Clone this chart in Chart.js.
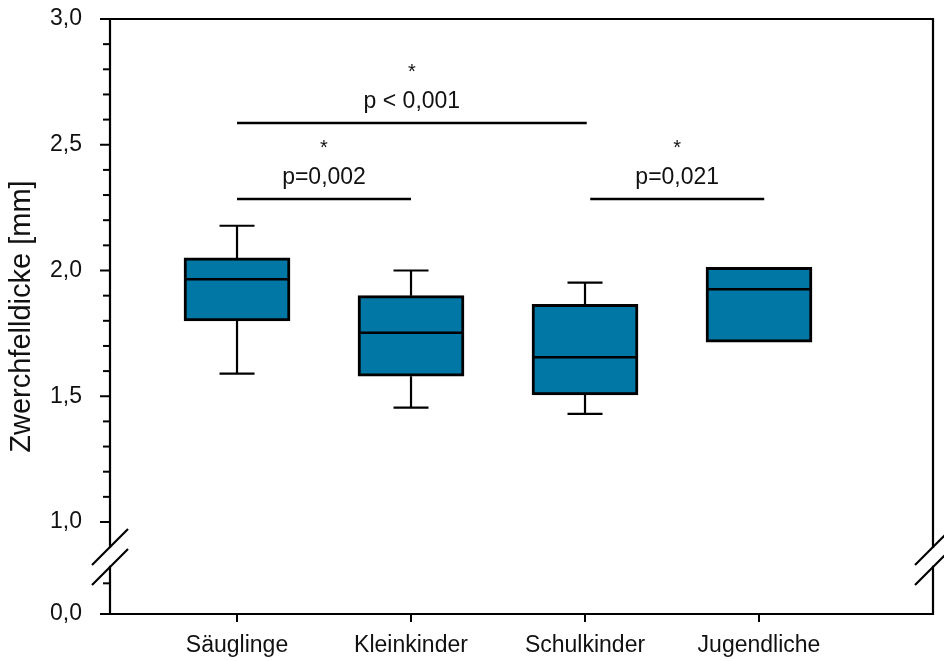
<!DOCTYPE html>
<html>
<head>
<meta charset="utf-8">
<script src="https://cdn.jsdelivr.net/npm/chart.js@4"></script>
<style>
  body { margin: 0; background: #fff; }
</style>
</head>
<body>
<canvas id="zwerchfell-chart" width="944" height="661"></canvas>
<script>
// Zwerchfelldicke je Altersgruppe (Boxplot: Min, Q1, Median, Q3, Max)
const groups = ['Säuglinge', 'Kleinkinder', 'Schulkinder', 'Jugendliche'];
const whiskerMin = [1.59, 1.455, 1.43, null];
const q1 = [1.80, 1.58, 1.505, 1.715];
const median = [1.965, 1.752, 1.655, 1.925];
const q3 = [2.05, 1.90, 1.865, 2.013];
const whiskerMax = [2.178, 2.0, 1.952, null];

// Signifikanzklammern
const sigFrom = [1, 1, 3.03];
const sigTo = [3.01, 2, 4.03];
const sigLevel = [2.586, 2.284, 2.284];
const sigLabel = ['p < 0,001', 'p=0,002', 'p=0,021'];

const yTitle = 'Zwerchfelldicke [mm]';
const breakAt = 0.186; // Achsenbruch im unteren Abschnitt

const boxColor = '#0077a4';
const ink = '#111';

Chart.defaults.font.family = '"Liberation Sans", Arial, sans-serif';
Chart.defaults.color = ink;

function fmt(v) {
  return v.toFixed(1).replace('.', ',');
}

// feste Achsenbreite, Überstand der Beschriftung nicht einrechnen
function fitLeft(scale) {
  scale.width = 110;
  scale.paddingTop = 0;
  scale.paddingBottom = 0;
}

const boxPlot = {
  id: 'boxPlot',
  afterDatasetsDraw(chart) {
    const ctx = chart.ctx;
    const y = chart.scales.y;
    const bars = chart.getDatasetMeta(0).data;
    ctx.save();
    ctx.strokeStyle = '#000';
    ctx.lineCap = 'butt';
    bars.forEach(function (bar, i) {
      const half = bar.width / 2;
      // Median
      ctx.lineWidth = 2.5;
      ctx.beginPath();
      ctx.moveTo(bar.x - half, y.getPixelForValue(median[i]));
      ctx.lineTo(bar.x + half, y.getPixelForValue(median[i]));
      ctx.stroke();
      // Whisker
      ctx.lineWidth = 2.2;
      if (whiskerMax[i] != null) {
        const top = y.getPixelForValue(whiskerMax[i]);
        ctx.beginPath();
        ctx.moveTo(bar.x, y.getPixelForValue(q3[i]));
        ctx.lineTo(bar.x, top);
        ctx.moveTo(bar.x - 17.5, top);
        ctx.lineTo(bar.x + 17.5, top);
        ctx.stroke();
      }
      if (whiskerMin[i] != null) {
        const bot = y.getPixelForValue(whiskerMin[i]);
        ctx.beginPath();
        ctx.moveTo(bar.x, y.getPixelForValue(q1[i]));
        ctx.lineTo(bar.x, bot);
        ctx.moveTo(bar.x - 17.5, bot);
        ctx.lineTo(bar.x + 17.5, bot);
        ctx.stroke();
      }
    });
    ctx.restore();
  },
  afterDraw(chart) {
    const ctx = chart.ctx;
    const area = chart.chartArea;
    const x = chart.scales.x;
    const y = chart.scales.y;
    const y0 = chart.scales.y0;
    const by = y0.getPixelForValue(breakAt);
    const gapTop = by - 10, gapBot = by + 10;

    ctx.save();
    ctx.strokeStyle = '#000';
    ctx.lineWidth = 2.2;
    ctx.lineCap = 'square';

    // Rahmen mit Achsenbruch links und rechts
    ctx.beginPath();
    ctx.moveTo(area.left, gapTop);
    ctx.lineTo(area.left, area.top);
    ctx.lineTo(area.right, area.top);
    ctx.lineTo(area.right, gapTop);
    ctx.moveTo(area.left, gapBot);
    ctx.lineTo(area.left, area.bottom);
    ctx.lineTo(area.right, area.bottom);
    ctx.lineTo(area.right, gapBot);
    ctx.stroke();

    // Bruchzeichen
    ctx.lineCap = 'butt';
    [area.left, area.right].forEach(function (ax) {
      [gapTop, gapBot].forEach(function (gy) {
        ctx.beginPath();
        ctx.moveTo(ax - 18, gy + 18);
        ctx.lineTo(ax + 18, gy - 18);
        ctx.stroke();
      });
    });

    // Haupt- und Nebenstriche der y-Achse
    ctx.lineWidth = 2;
    [y, y0].forEach(function (scale) {
      scale.ticks.forEach(function (t) {
        const py = scale.getPixelForValue(t.value);
        if (py > gapTop - 2 && py < gapBot + 2) return;
        if (scale === y0 && py < y.bottom + 1) return;
        const major = Math.abs(t.value * 2 - Math.round(t.value * 2)) < 1e-6;
        const len = major ? 10 : 7;
        ctx.beginPath();
        ctx.moveTo(area.left - len, py);
        ctx.lineTo(area.left, py);
        ctx.stroke();
      });
    });

    // Signifikanzklammern
    ctx.lineWidth = 2.5;
    ctx.fillStyle = ink;
    ctx.textAlign = 'center';
    ctx.textBaseline = 'middle';
    sigLevel.forEach(function (lvl, i) {
      const py = y.getPixelForValue(lvl);
      const x1 = x.getPixelForValue(sigFrom[i]);
      const x2 = x.getPixelForValue(sigTo[i]);
      ctx.beginPath();
      ctx.moveTo(x1, py);
      ctx.lineTo(x2, py);
      ctx.stroke();
      const cx = (x1 + x2) / 2;
      ctx.font = '23px "Liberation Sans", Arial, sans-serif';
      ctx.fillText(sigLabel[i], cx, py - 21);
      ctx.font = '20px "Liberation Sans", Arial, sans-serif';
      ctx.fillText('*', cx, py - 51);
    });

    // Achsentitel über die ganze Höhe
    ctx.translate(22, (area.top + area.bottom) / 2);
    ctx.rotate(-Math.PI / 2);
    ctx.font = '29px "Liberation Sans", Arial, sans-serif';
    ctx.fillText(yTitle, 0, 0);
    ctx.restore();
  }
};

const ctx = document.getElementById('zwerchfell-chart');

new Chart(ctx, {
  type: 'bar',
  data: {
    datasets: [{
      data: groups.map(function (g, i) {
        return { x: i + 1, y: [q1[i], q3[i]] };
      }),
      yAxisID: 'y',
      backgroundColor: boxColor,
      borderColor: '#000',
      borderWidth: 3,
      borderSkipped: false,
      barThickness: 106,
      grouped: false
    }]
  },
  options: {
    responsive: false,
    animation: false,
    layout: { padding: { top: 19, right: 11, left: 0, bottom: 0 } },
    plugins: { legend: { display: false }, tooltip: { enabled: false } },
    scales: {
      x: {
        type: 'linear',
        min: 0.27,
        max: 5,
        offset: false,
        afterBuildTicks: function (scale) {
          scale.ticks = groups.map(function (g, i) { return { value: i + 1 }; });
        },
        afterFit: function (scale) { scale.height = 47; },
        ticks: {
          autoSkip: false,
          maxRotation: 0,
          padding: 10,
          font: { size: 23 },
          callback: function (v) { return groups[v - 1]; }
        },
        grid: { offset: false, drawOnChartArea: false, tickLength: 8, color: '#000', lineWidth: 2 },
        border: { display: false }
      },
      // unterer Abschnitt unterhalb des Achsenbruchs
      y0: {
        type: 'linear',
        position: 'left',
        stack: 'v',
        stackWeight: 92,
        min: 0,
        max: 0.3,
        afterFit: fitLeft,
        ticks: {
          stepSize: 0.1,
          autoSkip: false,
          padding: 20,
          font: { size: 23 },
          callback: function (v) { return Math.abs(v) < 1e-6 ? fmt(v) : ''; }
        },
        grid: { display: false },
        border: { display: false }
      },
      y: {
        type: 'linear',
        position: 'left',
        stack: 'v',
        stackWeight: 503,
        min: 1,
        max: 3,
        afterFit: fitLeft,
        ticks: {
          stepSize: 0.1,
          autoSkip: false,
          padding: 20,
          font: { size: 23 },
          callback: function (v) {
            return Math.abs(v * 2 - Math.round(v * 2)) < 1e-6 ? fmt(v) : '';
          }
        },
        grid: { display: false },
        border: { display: false }
      }
    }
  },
  plugins: [boxPlot]
});
</script>
</body>
</html>
